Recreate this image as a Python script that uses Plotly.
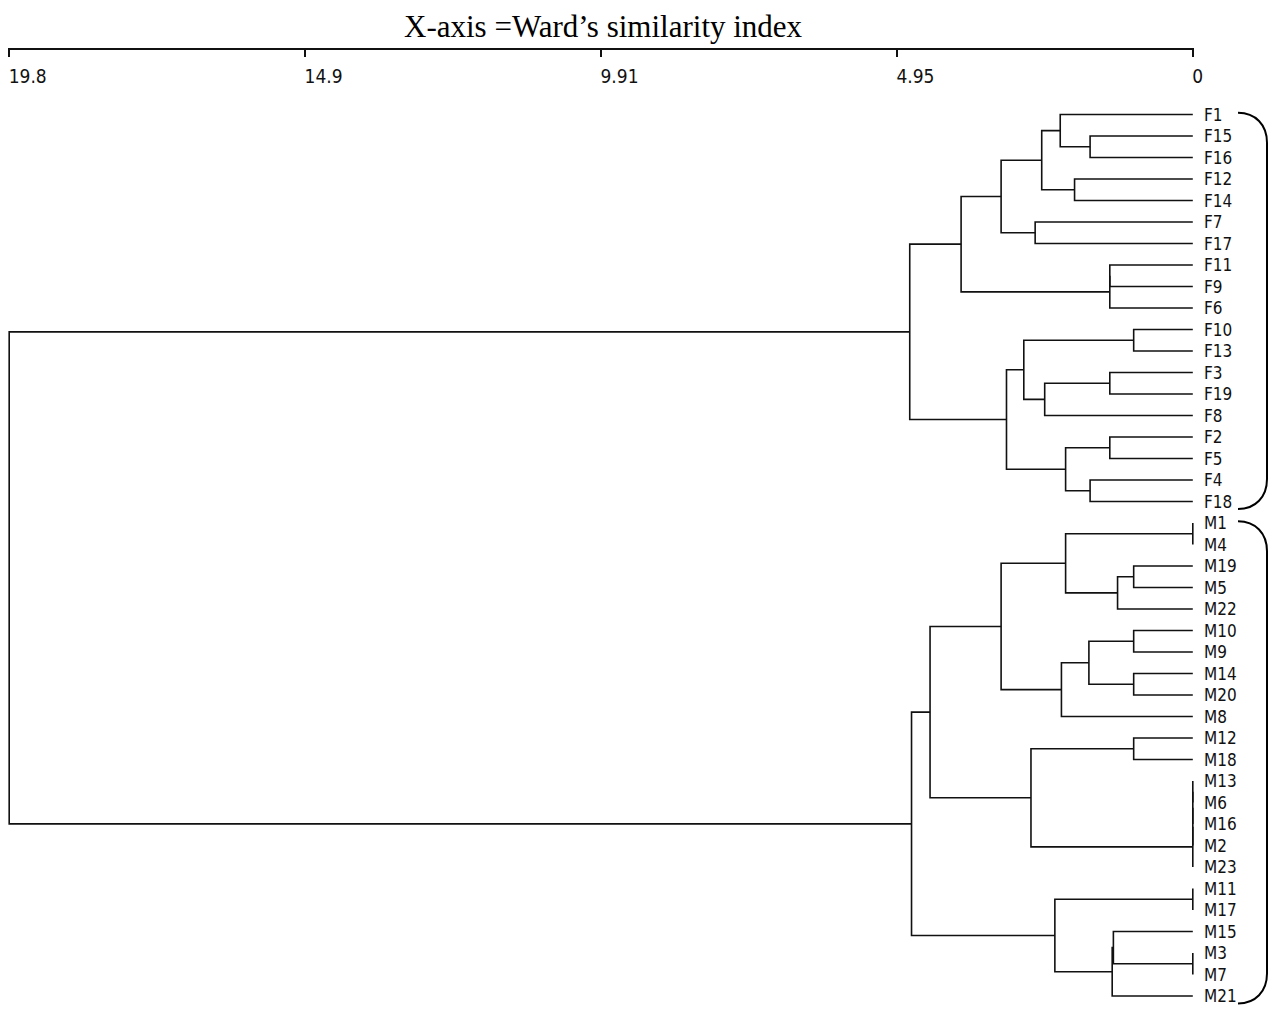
import plotly.graph_objects as go

# Leaf order, top to bottom
leaves = [
    "F1", "F15", "F16", "F12", "F14", "F7", "F17", "F11", "F9", "F6",
    "F10", "F13", "F3", "F19", "F8", "F2", "F5", "F4", "F18",
    "M1", "M4", "M19", "M5", "M22", "M10", "M9", "M14", "M20", "M8",
    "M12", "M18", "M13", "M6", "M16", "M2", "M23", "M11", "M17",
    "M15", "M3", "M7", "M21",
]

# Agglomeration steps: children are leaf names or "#k" (k-th step), with the join distance
merge_a = [
    "F15", "F1", "F12", "#1", "F7", "#3", "F11", "#6", "#5",
    "F10", "F3", "#10", "#9", "F2", "F4", "#13", "#12", "#8",
    "M1", "M19", "#19", "#18", "M10", "M14", "#22", "#24", "#21",
    "M12", "M13", "#28", "#29", "#30", "#27", "#26",
    "M11", "M3", "M15", "#36", "#34", "#33", "#17",
]
merge_b = [
    "F16", "#0", "F14", "#2", "F17", "#4", "F9", "F6", "#7",
    "F13", "F19", "F8", "#11", "F5", "F18", "#14", "#15", "#16",
    "M4", "M5", "M22", "#20", "M9", "M20", "#23", "M8", "#25",
    "M18", "M6", "M16", "M2", "M23", "#31", "#32",
    "M17", "M7", "#35", "M21", "#37", "#38", "#39",
]
merge_height = [
    1.72, 2.22, 1.98, 2.53, 2.64, 3.21, 1.39, 1.39, 3.88,
    0.99, 1.39, 2.48, 2.83, 1.39, 1.72, 2.13, 3.12, 4.74,
    0.0, 0.99, 1.26, 2.13, 0.99, 0.99, 1.74, 2.20, 3.21,
    0.99, 0.0, 0.0, 0.0, 0.0, 2.71, 4.40,
    0.0, 0.0, 1.33, 1.35, 2.31, 4.71, 19.82,
]

# Axis ticks (quarters of the full range)
tick_values = [19.82, 14.865, 9.91, 4.955, 0.0]
tick_text = ["19.8", "14.9", "9.91", "4.95", "0"]

# Groups marked with a bracket: (first leaf, last leaf)
groups = [("F1", "F18"), ("M1", "M21")]

title_text = "X-axis =Ward\u2019s similarity index"

# ---- build the dendrogram segments ----
pos = {name: (i, 0.0) for i, name in enumerate(leaves)}
xs, ys = [], []
for k, (a, b, h) in enumerate(zip(merge_a, merge_b, merge_height)):
    ya, ha = pos[a]
    yb, hb = pos[b]
    xs += [ha, h, h, hb, None]
    ys += [ya, ya, yb, yb, None]
    pos["#%d" % k] = ((ya + yb) / 2.0, h)

W, H = 1273, 1009
m_l, m_r, m_t, m_b = 8, 79, 49, 9
row_px = 21.5
first_row_px = 114.5
y_top = -(first_row_px - m_t) / row_px
y_bot = y_top + (H - m_t - m_b) / row_px
x_pad = 0.02
plot_h = H - m_t - m_b
plot_w = W - m_l - m_r

narrow = "Liberation Sans Narrow, DejaVu Sans Condensed, Arial Narrow, sans-serif"

fig = go.Figure()
fig.add_trace(go.Scatter(
    x=xs, y=ys, mode="lines",
    line=dict(color="#111111", width=1.6),
    hoverinfo="skip", showlegend=False, cliponaxis=False,
))

label_font = dict(family=narrow, size=17, color="#111111")
annotations = []
for i, name in enumerate(leaves):
    annotations.append(dict(
        x=0, y=i, xref="x", yref="y", text=name, showarrow=False,
        xanchor="left", yanchor="middle", xshift=9, font=label_font,
    ))

# Title sits above the axis line
annotations.append(dict(
    x=(603 - m_l) / plot_w, y=1 + (m_t - 27) / plot_h,
    xref="paper", yref="paper", text=title_text, showarrow=False,
    xanchor="center", yanchor="middle",
    font=dict(family="Liberation Serif, Times New Roman, serif", size=31, color="#000000"),
))


def to_paper_y(v):
    return (y_bot - v) / (y_bot - y_top)


def px_to_paper_x(px):
    return (px - m_l) / plot_w


# Right-hand brackets around each group
shapes = []
for first, last in groups:
    y0 = to_paper_y(leaves.index(first) - 0.08)
    y1 = to_paper_y(leaves.index(last) + 0.35)
    xa = px_to_paper_x(1238)
    xb = px_to_paper_x(1267)
    dy = 30 / plot_h
    path = (
        f"M {xa},{y0} "
        f"C {xa + (xb - xa) * 0.6},{y0} {xb},{y0 - dy * 0.4} {xb},{y0 - dy} "
        f"L {xb},{y1 + dy} "
        f"C {xb},{y1 + dy * 0.4} {xa + (xb - xa) * 0.6},{y1} {xa},{y1}"
    )
    shapes.append(dict(type="path", path=path, xref="paper", yref="paper",
                       line=dict(color="#000000", width=2)))

fig.update_layout(
    width=W, height=H,
    margin=dict(l=m_l, r=m_r, t=m_t, b=m_b, pad=0),
    paper_bgcolor="white", plot_bgcolor="white",
    showlegend=False,
    xaxis=dict(
        range=[tick_values[0] + x_pad, -x_pad],
        anchor="free", position=1.0, side="bottom",
        showline=True, linecolor="#111111", linewidth=1.5,
        ticks="outside", ticklen=7, tickwidth=1.5, tickcolor="#111111",
        tickvals=tick_values, ticktext=tick_text,
        ticklabelposition="outside right", ticklabeloverflow="allow",
        ticklabelstandoff=10, ticklabelshift=2,
        tickfont=dict(family=narrow, size=19, color="#111111"),
        showgrid=False, zeroline=False, automargin=False, fixedrange=True,
    ),
    yaxis=dict(
        range=[y_bot, y_top], visible=False, showgrid=False, zeroline=False,
        automargin=False, fixedrange=True,
    ),
    annotations=annotations,
    shapes=shapes,
)

fig.write_html("out.html")
